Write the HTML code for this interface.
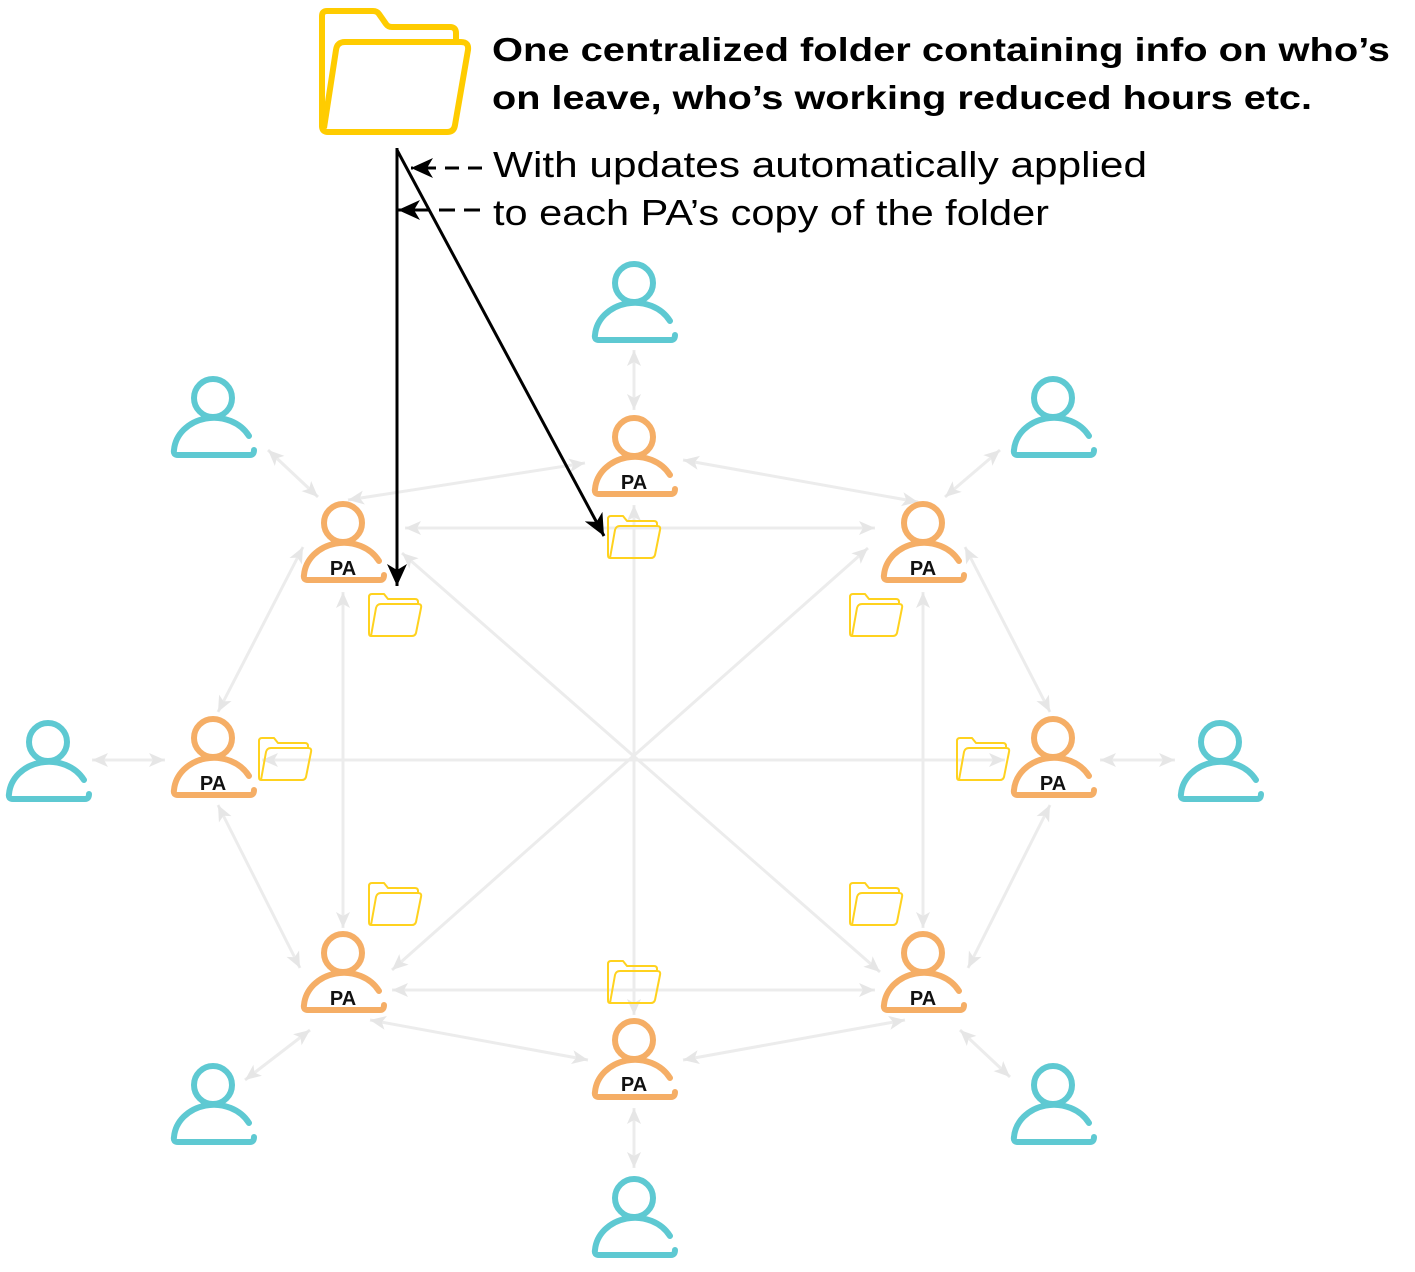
<!DOCTYPE html>
<html><head><meta charset="utf-8"><style>html,body{margin:0;padding:0;background:#fff}svg{display:block}</style></head>
<body>
<svg width="1415" height="1272" viewBox="0 0 1415 1272" xmlns="http://www.w3.org/2000/svg">
<defs>
<marker id="g" viewBox="0 0 20 20" refX="18" refY="10" markerWidth="20" markerHeight="20" orient="auto-start-reverse" markerUnits="userSpaceOnUse">
<path d="M2 3 L18 10 L2 17 L6 10 Z" fill="#e6e6e6"/></marker>
<marker id="b" viewBox="0 0 24 24" refX="22" refY="12" markerWidth="24" markerHeight="24" orient="auto" markerUnits="userSpaceOnUse">
<path d="M0 2 L22 12 L0 22 L6 12 Z" fill="#000"/></marker>
<g id="body"><circle cx="0" cy="0" r="19" fill="#fff" stroke-width="6"/><path d="M36 38 A40 35 0 0 0 -39 52 Q-40 57 -35 57 L37 57 Q41 57 41 52" fill="none" stroke-width="6" stroke-linecap="round"/></g>
<g id="sf"><path d="M2 5 Q2 2 5 2 L17 2 L21 7 L48 7 Q51 7 51 10 L51 12 M4 44 L9 16 Q10 12 14 12 L51 12 Q55 12 54 16 L49 41 Q48 44 45 44 L4 44 Q2 44 2 41 L2 5" fill="none" stroke="#ffd21f" stroke-width="2" stroke-linejoin="round"/></g>
</defs>
<g stroke="#ececec" stroke-width="3" fill="none" marker-start="url(#g)" marker-end="url(#g)">
<line x1="634" y1="505" x2="634" y2="1015"/>
<line x1="262" y1="760" x2="1005" y2="760"/>
<line x1="402" y1="553" x2="880" y2="972"/>
<line x1="868" y1="548" x2="392" y2="970"/>
<line x1="405" y1="528" x2="875" y2="528"/>
<line x1="392" y1="990" x2="875" y2="990"/>
<line x1="343" y1="592" x2="343" y2="928"/>
<line x1="923" y1="592" x2="923" y2="928"/>
<line x1="585" y1="463" x2="348" y2="500"/>
<line x1="683" y1="460" x2="918" y2="502"/>
<line x1="303" y1="547" x2="218" y2="712"/>
<line x1="965" y1="547" x2="1050" y2="712"/>
<line x1="218" y1="805" x2="300" y2="968"/>
<line x1="1050" y1="805" x2="968" y2="968"/>
<line x1="370" y1="1020" x2="588" y2="1060"/>
<line x1="905" y1="1020" x2="683" y2="1060"/>
<line x1="634" y1="350" x2="634" y2="410"/>
<line x1="634" y1="1108" x2="634" y2="1168"/>
<line x1="268" y1="450" x2="318" y2="497"/>
<line x1="1000" y1="450" x2="945" y2="497"/>
<line x1="92" y1="760" x2="165" y2="760"/>
<line x1="1100" y1="760" x2="1175" y2="760"/>
<line x1="245" y1="1080" x2="310" y2="1030"/>
<line x1="1010" y1="1077" x2="960" y2="1030"/>
</g>
<g stroke="#5ec9d2">
<use href="#body" x="634" y="283"/><use href="#body" x="213" y="398"/><use href="#body" x="1053" y="398"/>
<use href="#body" x="48" y="742"/><use href="#body" x="1220" y="742"/>
<use href="#body" x="213" y="1085"/><use href="#body" x="1053" y="1085"/><use href="#body" x="634" y="1198"/>
</g>
<g stroke="#f5ae66">
<use href="#body" x="634" y="437"/><use href="#body" x="343" y="523"/><use href="#body" x="923" y="523"/>
<use href="#body" x="213" y="738"/><use href="#body" x="1053" y="738"/>
<use href="#body" x="343" y="953"/><use href="#body" x="923" y="953"/><use href="#body" x="634" y="1040"/>
</g>
<g font-family="Liberation Sans, sans-serif" font-weight="bold" font-size="20" text-anchor="middle" fill="#111">
<text x="634" y="489">PA</text><text x="343" y="575">PA</text><text x="923" y="575">PA</text>
<text x="213" y="790">PA</text><text x="1053" y="790">PA</text>
<text x="343" y="1005">PA</text><text x="923" y="1005">PA</text><text x="634" y="1091">PA</text>
</g>
<use href="#sf" x="606" y="514"/><use href="#sf" x="367" y="592"/><use href="#sf" x="848" y="592"/>
<use href="#sf" x="257" y="736"/><use href="#sf" x="955" y="736"/><use href="#sf" x="367" y="881"/>
<use href="#sf" x="848" y="881"/><use href="#sf" x="606" y="959"/>
<path d="M322 16 Q322 11 327 11 L373 11 Q377 11 379 14 L386 24 Q388 27 392 27 L450 27 Q456 27 456 33 L456 40 M324 128 L336 50 Q337 42 345 42 L461 42 Q469 42 468 50 L455 125 Q454 132 447 132 L328 132 Q322 132 322 126 L322 16" fill="none" stroke="#ffcc00" stroke-width="6" stroke-linejoin="round"/>
<g stroke="#000" stroke-width="3" fill="none">
<line x1="397" y1="148" x2="397" y2="586" marker-end="url(#b)"/>
<line x1="397" y1="150" x2="604" y2="536" marker-end="url(#b)"/>
<line x1="482" y1="168" x2="411" y2="168" marker-end="url(#b)" stroke-dasharray="14 9"/>
<line x1="480" y1="210" x2="398" y2="210" marker-end="url(#b)" stroke-dasharray="16 9"/>
</g>
<g font-family="Liberation Sans, sans-serif" fill="#000">
<text x="492" y="61" font-size="33" font-weight="bold" textLength="898" lengthAdjust="spacingAndGlyphs">One centralized folder containing info on who’s</text>
<text x="492" y="109" font-size="33" font-weight="bold" textLength="820" lengthAdjust="spacingAndGlyphs">on leave, who’s working reduced hours etc.</text>
<text x="493" y="177" font-size="36" textLength="654" lengthAdjust="spacingAndGlyphs">With updates automatically applied</text>
<text x="493" y="225" font-size="36" textLength="556" lengthAdjust="spacingAndGlyphs">to each PA’s copy of the folder</text>
</g>
</svg>
</body></html>
